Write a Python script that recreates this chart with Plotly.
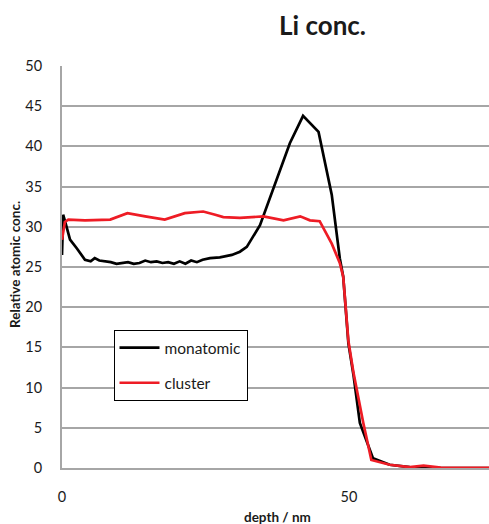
import plotly.graph_objects as go

# Data
mono_x = [0, 0.2, 0.8, 1.4, 2.6, 4.0, 5.0, 5.7, 6.5, 7.5, 8.5, 9.5, 10.5, 11.5, 12.5,
          13.5, 14.5, 15.5, 16.5, 17.5, 18.5, 19.5, 20.5, 21.5, 22.5, 23.5, 24.5, 25.8,
          27.5, 29.6, 31.0, 32.2, 34.5, 37.4, 39.7, 42.0, 44.7, 47.0, 48.4, 49.0, 49.9,
          50.8, 51.9, 54.2, 57.1, 60.6, 63, 66, 70, 75]
mono_y = [26.5, 31.5, 30.0, 28.4, 27.3, 25.9, 25.7, 26.1, 25.8, 25.7, 25.6, 25.4, 25.5,
          25.6, 25.4, 25.5, 25.8, 25.6, 25.7, 25.5, 25.6, 25.4, 25.7, 25.4, 25.8, 25.6,
          25.9, 26.1, 26.2, 26.5, 26.9, 27.5, 30.2, 35.8, 40.4, 43.8, 41.8, 34.0, 26.1,
          23.8, 15.5, 11.5, 5.6, 1.2, 0.4, 0.1, 0, 0, 0, 0]

clus_x = [0, 0.5, 1.1, 4, 8.4, 11.4, 14.5, 17.9, 21.4, 24.6, 26.7, 28.1, 31, 33.3, 35.1,
          38.6, 41.5, 43.2, 44.9, 47.0, 48.4, 49.0, 49.9, 50.8, 52.5, 53.9, 57.1, 60.6,
          63, 66, 70, 75]
clus_y = [28.4, 30.6, 30.9, 30.8, 30.9, 31.7, 31.3, 30.9, 31.7, 31.9, 31.5, 31.2, 31.1,
          31.2, 31.3, 30.8, 31.3, 30.8, 30.7, 27.9, 25.5, 23.8, 15.8, 11.8, 5.6, 1.0, 0.4,
          0.1, 0.3, 0.05, 0, 0]

series_names = ["monatomic", "cluster"]
y_ticks = [0, 5, 10, 15, 20, 25, 30, 35, 40, 45, 50]
x_ticks = [0, 50]

FONT = "Lato, 'Open Sans', sans-serif"
TXT = "#1a1a1a"

# plot-area geometry (pixels) used only to place paper-coordinate texts
L, T, W, H = 62, 66, 427, 402

fig = go.Figure()
fig.add_trace(go.Scatter(x=mono_x, y=mono_y, mode="lines", name=series_names[0],
                         legendgroup="a", line=dict(color="black", width=2.7)))
fig.add_trace(go.Scatter(x=clus_x, y=clus_y, mode="lines", name=series_names[1],
                         legendgroup="b", line=dict(color="#ee1c25", width=2.7)))

fig.update_layout(
    width=489, height=524,
    margin=dict(l=L, r=489 - L - W, t=T, b=524 - T - H, autoexpand=False),
    paper_bgcolor="white", plot_bgcolor="white",
    font=dict(family=FONT, size=14.5, color=TXT),
    showlegend=True,
    legend=dict(x=(113.5 - L) / W, y=(T + H - 330) / H, xanchor="left", yanchor="top",
                bordercolor="black", borderwidth=1, bgcolor="white",
                font=dict(size=15.5, color=TXT), itemwidth=40,
                tracegroupgap=12, traceorder="grouped"),
)
fig.add_annotation(text="<b>Li conc.</b>", x=(322 - L) / W, y=1 + (T - 25) / H,
                   xref="paper", yref="paper", showarrow=False,
                   xanchor="center", yanchor="middle", font=dict(size=26, color=TXT))
fig.add_annotation(text="<b>depth / nm</b>", x=(277 - L) / W, y=-(517 - T - H) / H,
                   xref="paper", yref="paper", showarrow=False,
                   xanchor="center", yanchor="middle", font=dict(size=13.5, color=TXT))
fig.add_annotation(text="<b>Relative atomic conc.</b>", x=-(L - 15) / W,
                   y=(T + H - 265) / H, xref="paper", yref="paper", showarrow=False,
                   textangle=-90, xanchor="center", yanchor="middle",
                   font=dict(size=13.5, color=TXT))

fig.update_xaxes(range=[0, 74.4], tickvals=x_ticks, showgrid=False, zeroline=False,
                 showline=True, linecolor="#a6a6a6", linewidth=2,
                 ticks="", ticklabelstandoff=15)
fig.update_yaxes(range=[0, 50], tickvals=y_ticks, showgrid=True, gridcolor="#a6a6a6",
                 gridwidth=1.5, zeroline=False, showline=True, linecolor="#a6a6a6",
                 linewidth=2, ticks="", ticklabelstandoff=15)

fig.write_html("out.html", config={"displayModeBar": False},
               post_script="document.body.style.margin='0';"
                           "document.body.style.overflow='hidden';")
